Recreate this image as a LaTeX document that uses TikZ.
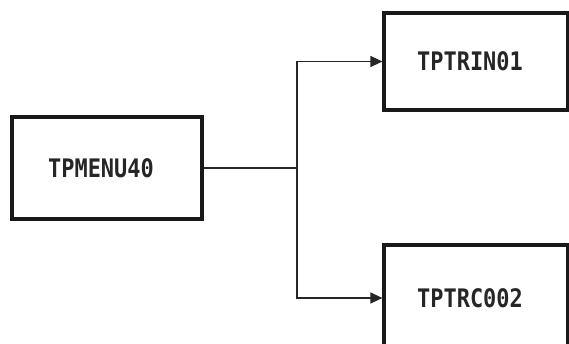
\documentclass[tikz,border=0pt]{standalone}
\usepackage{fontspec}
\newfontfamily\boxfont[FakeStretch=0.86]{DejaVu Sans Mono}
\usetikzlibrary{arrows.meta}
\newcommand{\lbl}[1]{#1\kern12pt}
\begin{document}
\begin{tikzpicture}[x=1pt,y=1pt,
  modbox/.style={draw=black!90, line width=3.2pt, fill=white, inner sep=0pt,
    font=\boxfont\bfseries\fontsize{25.5}{29}\selectfont, text=black!85},
  link/.style={draw=black!85, line width=1.3pt},
  tip/.style={-{Triangle[length=12pt,width=11pt]}}]
\useasboundingbox (0,0) rectangle (569,343);
\node[modbox, minimum width=190pt, minimum height=102pt] (menu) at (107,175) {\lbl{TPMENU40}};
\node[modbox, minimum width=184pt, minimum height=97pt] (trin) at (476,281.5) {\lbl{TPTRIN01}};
\node[modbox, minimum width=184pt, minimum height=106pt] (trco) at (476,45) {\lbl{TPTRC002}};
\coordinate (junc) at (297,175);
\draw[link] (menu.east) -- (junc);
\draw[link, tip] (junc) |- (trin.west);
\draw[link, tip] (junc) |- (trco.west);
\end{tikzpicture}
\end{document}
